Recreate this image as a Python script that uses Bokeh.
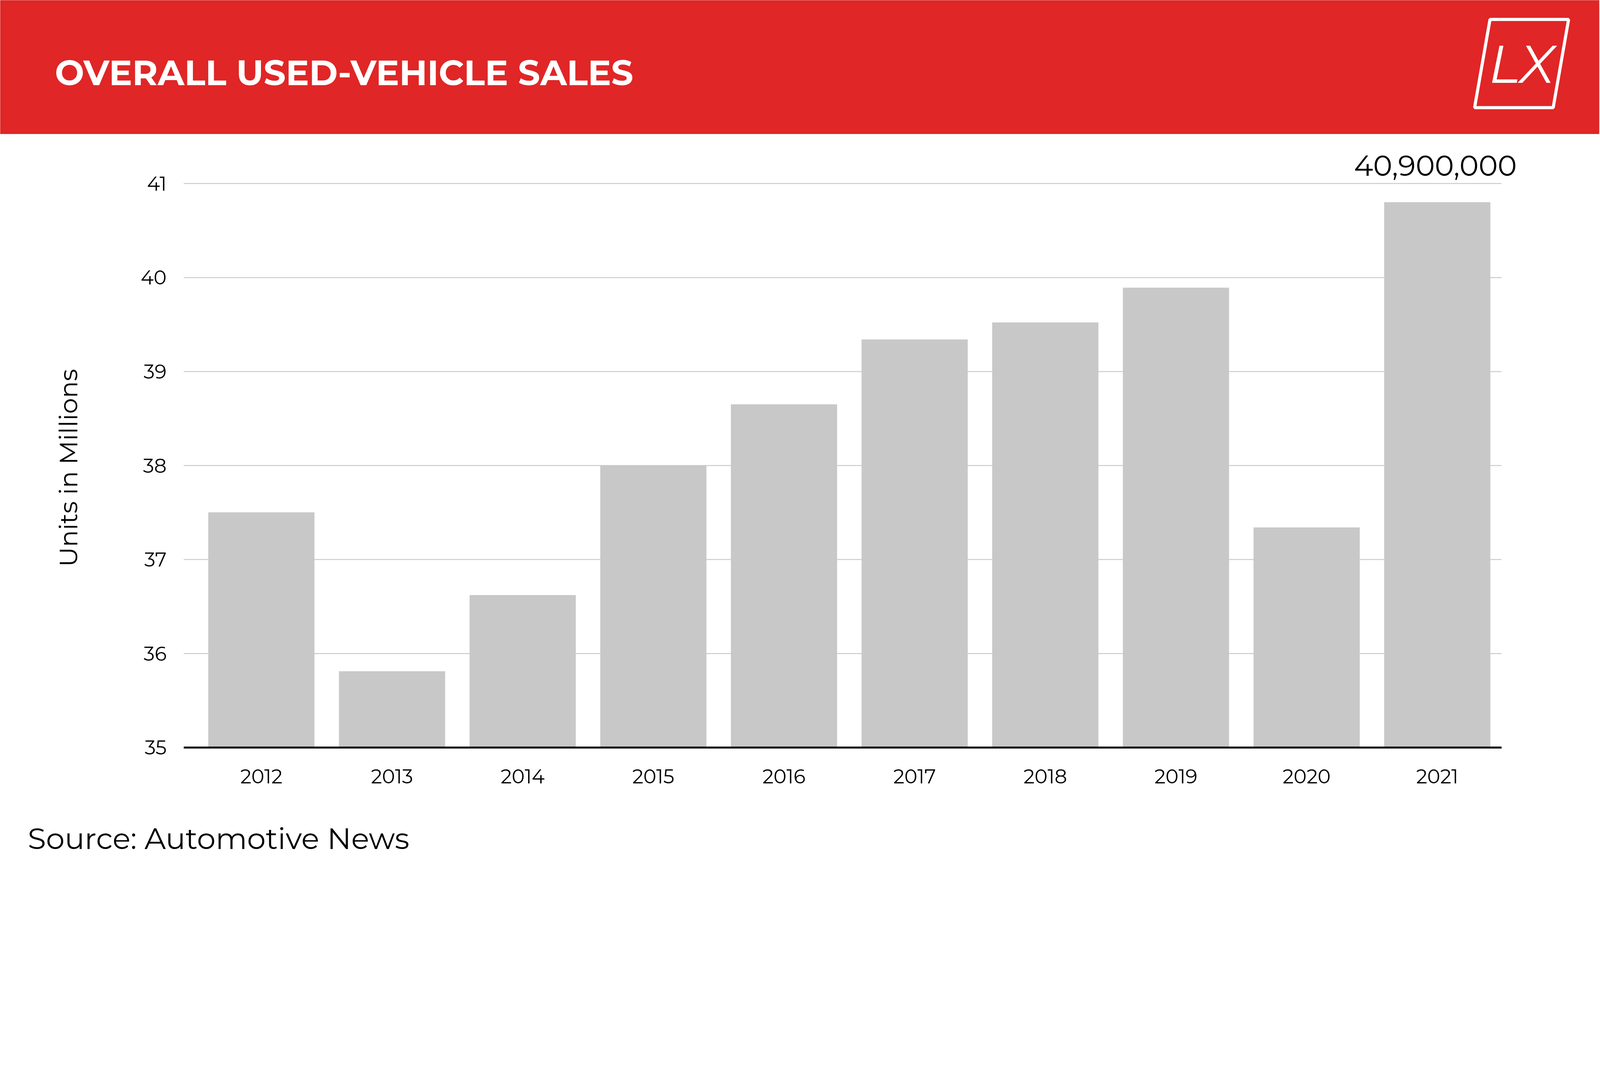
from bokeh.plotting import figure
from bokeh.layouts import column
from bokeh.models import Range1d
from bokeh.core.properties import value
from bokeh.embed import file_html
from bokeh.resources import INLINE
import math

years = ["2012","2013","2014","2015","2016","2017","2018","2019","2020","2021"]
sales = [37.5, 35.81, 36.62, 38.0, 38.65, 39.34, 39.52, 39.89, 37.34, 40.8]
y_ticks = [35, 36, 37, 38, 39, 40, 41]
title_text = "OVERALL USED-VEHICLE SALES"
y_axis_label = "Units in Millions"
top_label = "40,900,000"
source_text = "Source: Automotive News"

W = 4094
HH = 343
CH = 1908
FONT = value("Montserrat")

# header (drawn in a 4151 x 348 coordinate box)
h = figure(width=W, height=HH, x_range=Range1d(0, 4151), y_range=Range1d(0, 348),
           output_backend="svg", toolbar_location=None, min_border=0)
h.axis.visible = False
h.grid.visible = False
h.outline_line_color = None
h.background_fill_color = "#e02626"
h.border_fill_color = "#e02626"
h.text(x=[142], y=[160], text=[title_text], text_color="white", text_font=FONT,
       text_font_style="bold", text_font_size="89px", text_baseline="middle", text_align="left")
h.patch(x=[3867, 4071, 4031, 3827], y=[298, 298, 69, 69], fill_alpha=0, line_color="white", line_width=8)
h.text(x=[3949], y=[183], text=["LX"], text_color="white", text_font=FONT,
       text_font_style="italic", text_font_size="136px", text_baseline="middle", text_align="center")

# chart: frame covers the whole figure; categories sit at 0..10
n = len(years)
xs = [i + 0.5 for i in range(n)]
g0, g1 = -0.094, 9.992   # extent of grid / baseline
p = figure(width=W, height=CH, x_range=Range1d(-1.499, 10.741), y_range=Range1d(33.594, 41.525),
           output_backend="svg", toolbar_location=None, min_border=0)
p.axis.visible = False
p.grid.visible = False
p.outline_line_color = None

p.segment(x0=[g0] * len(y_ticks), x1=[g1] * len(y_ticks), y0=y_ticks, y1=y_ticks,
          line_color="#cccccc", line_width=2.5)
p.vbar(x=xs, top=sales, bottom=y_ticks[0], width=0.81, color="#c8c8c8")
p.segment(x0=[g0], x1=[g1], y0=[y_ticks[0]], y1=[y_ticks[0]], line_color="black", line_width=5)

p.text(x=[g0] * len(y_ticks), y=y_ticks, text=[str(t) for t in y_ticks], x_offset=-44,
       text_align="right", text_baseline="middle", text_font=FONT, text_font_size="50px", text_color="black")
p.text(x=xs, y=[y_ticks[0]] * n, text=years, y_offset=74,
       text_align="center", text_baseline="middle", text_font=FONT, text_font_size="50px", text_color="black")
p.text(x=[-0.976], y=[37.975], text=[y_axis_label], angle=math.pi / 2,
       text_align="center", text_baseline="middle", text_font=FONT, text_font_size="64px", text_color="black")
p.text(x=[10.109], y=[41.19], text=[top_label], text_align="right", text_baseline="middle",
       text_font=FONT, text_font_size="74px", text_color="black")
p.text(x=[-1.288], y=[34.035], text=[source_text], text_align="left", text_baseline="middle",
       text_font=FONT, text_font_size="76px", text_color="black")

layout = column(h, p, spacing=0)
open("out.html", "w").write(file_html(layout, INLINE))
